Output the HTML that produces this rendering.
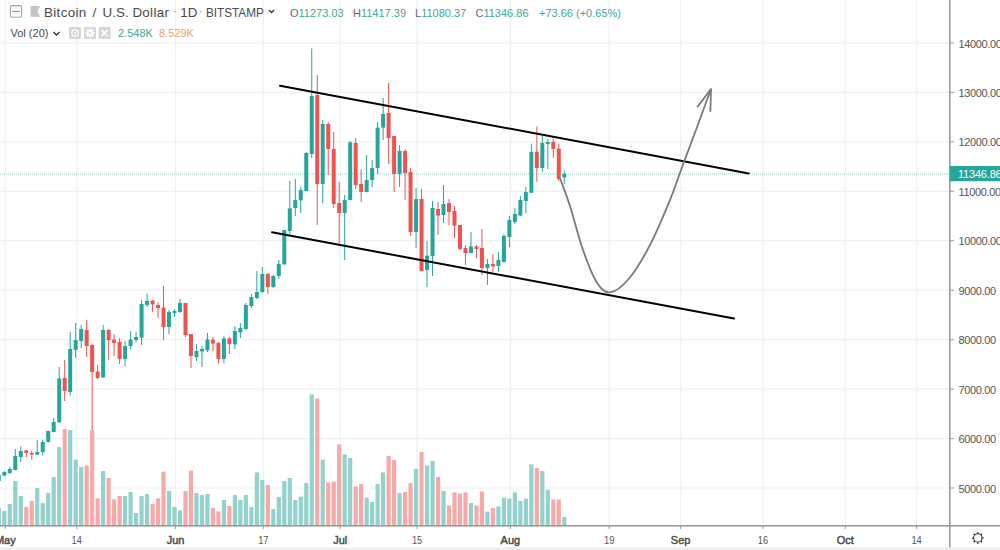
<!DOCTYPE html><html><head><meta charset="utf-8"><style>
html,body{margin:0;padding:0;background:#fff;}
body{width:1000px;height:550px;overflow:hidden;position:relative;font-family:"Liberation Sans",sans-serif;}
svg{position:absolute;left:0;top:0;}
.lg{position:absolute;white-space:nowrap;}
</style></head><body>
<svg width="1000" height="550" viewBox="0 0 1000 550">
<line x1="0" y1="488.0" x2="950" y2="488.0" stroke="#eef0f3" stroke-width="1.2"/>
<line x1="0" y1="438.6" x2="950" y2="438.6" stroke="#eef0f3" stroke-width="1.2"/>
<line x1="0" y1="389.1" x2="950" y2="389.1" stroke="#eef0f3" stroke-width="1.2"/>
<line x1="0" y1="339.7" x2="950" y2="339.7" stroke="#eef0f3" stroke-width="1.2"/>
<line x1="0" y1="290.2" x2="950" y2="290.2" stroke="#eef0f3" stroke-width="1.2"/>
<line x1="0" y1="240.7" x2="950" y2="240.7" stroke="#eef0f3" stroke-width="1.2"/>
<line x1="0" y1="191.3" x2="950" y2="191.3" stroke="#eef0f3" stroke-width="1.2"/>
<line x1="0" y1="141.8" x2="950" y2="141.8" stroke="#eef0f3" stroke-width="1.2"/>
<line x1="0" y1="92.4" x2="950" y2="92.4" stroke="#eef0f3" stroke-width="1.2"/>
<line x1="0" y1="42.9" x2="950" y2="42.9" stroke="#eef0f3" stroke-width="1.2"/>
<line x1="5.3" y1="0" x2="5.3" y2="526" stroke="#eef0f3" stroke-width="1.2"/>
<line x1="76.7" y1="0" x2="76.7" y2="526" stroke="#eef0f3" stroke-width="1.2"/>
<line x1="175.5" y1="0" x2="175.5" y2="526" stroke="#eef0f3" stroke-width="1.2"/>
<line x1="263.3" y1="0" x2="263.3" y2="526" stroke="#eef0f3" stroke-width="1.2"/>
<line x1="340.2" y1="0" x2="340.2" y2="526" stroke="#eef0f3" stroke-width="1.2"/>
<line x1="417.1" y1="0" x2="417.1" y2="526" stroke="#eef0f3" stroke-width="1.2"/>
<line x1="510.4" y1="0" x2="510.4" y2="526" stroke="#eef0f3" stroke-width="1.2"/>
<line x1="609.2" y1="0" x2="609.2" y2="526" stroke="#eef0f3" stroke-width="1.2"/>
<line x1="680.6" y1="0" x2="680.6" y2="526" stroke="#eef0f3" stroke-width="1.2"/>
<line x1="762.9" y1="0" x2="762.9" y2="526" stroke="#eef0f3" stroke-width="1.2"/>
<line x1="845.3" y1="0" x2="845.3" y2="526" stroke="#eef0f3" stroke-width="1.2"/>
<line x1="916.6" y1="0" x2="916.6" y2="526" stroke="#eef0f3" stroke-width="1.2"/>
<rect x="-3.28" y="508.0" width="4.2" height="18.0" fill="#93d2cc"/>
<rect x="2.21" y="511.0" width="4.2" height="15.0" fill="#93d2cc"/>
<rect x="7.70" y="504.0" width="4.2" height="22.0" fill="#93d2cc"/>
<rect x="13.19" y="481.0" width="4.2" height="45.0" fill="#93d2cc"/>
<rect x="18.68" y="496.0" width="4.2" height="30.0" fill="#93d2cc"/>
<rect x="24.17" y="507.0" width="4.2" height="19.0" fill="#f7a9a7"/>
<rect x="29.66" y="501.0" width="4.2" height="25.0" fill="#f7a9a7"/>
<rect x="35.15" y="488.0" width="4.2" height="38.0" fill="#93d2cc"/>
<rect x="40.64" y="503.0" width="4.2" height="23.0" fill="#93d2cc"/>
<rect x="46.13" y="493.0" width="4.2" height="33.0" fill="#93d2cc"/>
<rect x="51.62" y="477.0" width="4.2" height="49.0" fill="#93d2cc"/>
<rect x="57.11" y="447.0" width="4.2" height="79.0" fill="#93d2cc"/>
<rect x="62.60" y="429.0" width="4.2" height="97.0" fill="#f7a9a7"/>
<rect x="68.09" y="430.0" width="4.2" height="96.0" fill="#93d2cc"/>
<rect x="73.58" y="459.6" width="4.2" height="66.4" fill="#93d2cc"/>
<rect x="79.07" y="467.0" width="4.2" height="59.0" fill="#93d2cc"/>
<rect x="84.56" y="465.6" width="4.2" height="60.4" fill="#f7a9a7"/>
<rect x="90.05" y="430.0" width="4.2" height="96.0" fill="#f7a9a7"/>
<rect x="95.54" y="498.4" width="4.2" height="27.6" fill="#f7a9a7"/>
<rect x="101.03" y="471.0" width="4.2" height="55.0" fill="#93d2cc"/>
<rect x="106.52" y="478.0" width="4.2" height="48.0" fill="#f7a9a7"/>
<rect x="112.01" y="499.4" width="4.2" height="26.6" fill="#f7a9a7"/>
<rect x="117.50" y="496.0" width="4.2" height="30.0" fill="#f7a9a7"/>
<rect x="122.99" y="496.0" width="4.2" height="30.0" fill="#93d2cc"/>
<rect x="128.48" y="492.0" width="4.2" height="34.0" fill="#93d2cc"/>
<rect x="133.97" y="513.0" width="4.2" height="13.0" fill="#93d2cc"/>
<rect x="139.46" y="496.0" width="4.2" height="30.0" fill="#93d2cc"/>
<rect x="144.95" y="494.0" width="4.2" height="32.0" fill="#93d2cc"/>
<rect x="150.44" y="504.0" width="4.2" height="22.0" fill="#f7a9a7"/>
<rect x="155.93" y="498.4" width="4.2" height="27.6" fill="#f7a9a7"/>
<rect x="161.42" y="471.6" width="4.2" height="54.4" fill="#f7a9a7"/>
<rect x="166.91" y="491.0" width="4.2" height="35.0" fill="#93d2cc"/>
<rect x="172.40" y="507.0" width="4.2" height="19.0" fill="#93d2cc"/>
<rect x="177.89" y="510.4" width="4.2" height="15.6" fill="#93d2cc"/>
<rect x="183.38" y="491.0" width="4.2" height="35.0" fill="#f7a9a7"/>
<rect x="188.87" y="470.6" width="4.2" height="55.4" fill="#f7a9a7"/>
<rect x="194.36" y="493.0" width="4.2" height="33.0" fill="#93d2cc"/>
<rect x="199.85" y="495.0" width="4.2" height="31.0" fill="#93d2cc"/>
<rect x="205.34" y="494.0" width="4.2" height="32.0" fill="#93d2cc"/>
<rect x="210.83" y="508.0" width="4.2" height="18.0" fill="#f7a9a7"/>
<rect x="216.32" y="511.4" width="4.2" height="14.6" fill="#f7a9a7"/>
<rect x="221.81" y="500.0" width="4.2" height="26.0" fill="#93d2cc"/>
<rect x="227.30" y="506.0" width="4.2" height="20.0" fill="#f7a9a7"/>
<rect x="232.79" y="495.0" width="4.2" height="31.0" fill="#93d2cc"/>
<rect x="238.28" y="500.0" width="4.2" height="26.0" fill="#93d2cc"/>
<rect x="243.77" y="495.0" width="4.2" height="31.0" fill="#93d2cc"/>
<rect x="249.26" y="507.0" width="4.2" height="19.0" fill="#93d2cc"/>
<rect x="254.75" y="472.4" width="4.2" height="53.6" fill="#93d2cc"/>
<rect x="260.24" y="480.0" width="4.2" height="46.0" fill="#93d2cc"/>
<rect x="265.73" y="485.0" width="4.2" height="41.0" fill="#f7a9a7"/>
<rect x="271.22" y="509.0" width="4.2" height="17.0" fill="#93d2cc"/>
<rect x="276.71" y="497.0" width="4.2" height="29.0" fill="#93d2cc"/>
<rect x="282.20" y="481.0" width="4.2" height="45.0" fill="#93d2cc"/>
<rect x="287.69" y="478.0" width="4.2" height="48.0" fill="#93d2cc"/>
<rect x="293.18" y="500.0" width="4.2" height="26.0" fill="#93d2cc"/>
<rect x="298.67" y="496.6" width="4.2" height="29.4" fill="#93d2cc"/>
<rect x="304.16" y="483.0" width="4.2" height="43.0" fill="#93d2cc"/>
<rect x="309.65" y="394.4" width="4.2" height="131.6" fill="#93d2cc"/>
<rect x="315.14" y="398.4" width="4.2" height="127.6" fill="#f7a9a7"/>
<rect x="320.63" y="459.6" width="4.2" height="66.4" fill="#93d2cc"/>
<rect x="326.12" y="482.4" width="4.2" height="43.6" fill="#f7a9a7"/>
<rect x="331.61" y="481.6" width="4.2" height="44.4" fill="#f7a9a7"/>
<rect x="337.10" y="444.4" width="4.2" height="81.6" fill="#f7a9a7"/>
<rect x="342.59" y="454.4" width="4.2" height="71.6" fill="#93d2cc"/>
<rect x="348.08" y="458.0" width="4.2" height="68.0" fill="#93d2cc"/>
<rect x="353.57" y="486.4" width="4.2" height="39.6" fill="#f7a9a7"/>
<rect x="359.06" y="484.0" width="4.2" height="42.0" fill="#f7a9a7"/>
<rect x="364.55" y="497.6" width="4.2" height="28.4" fill="#93d2cc"/>
<rect x="370.04" y="502.0" width="4.2" height="24.0" fill="#93d2cc"/>
<rect x="375.53" y="484.0" width="4.2" height="42.0" fill="#93d2cc"/>
<rect x="381.02" y="472.4" width="4.2" height="53.6" fill="#93d2cc"/>
<rect x="386.51" y="456.0" width="4.2" height="70.0" fill="#f7a9a7"/>
<rect x="392.00" y="460.0" width="4.2" height="66.0" fill="#f7a9a7"/>
<rect x="397.49" y="493.0" width="4.2" height="33.0" fill="#93d2cc"/>
<rect x="402.98" y="492.0" width="4.2" height="34.0" fill="#f7a9a7"/>
<rect x="408.47" y="483.0" width="4.2" height="43.0" fill="#f7a9a7"/>
<rect x="413.96" y="469.0" width="4.2" height="57.0" fill="#93d2cc"/>
<rect x="419.45" y="452.0" width="4.2" height="74.0" fill="#f7a9a7"/>
<rect x="424.94" y="465.6" width="4.2" height="60.4" fill="#93d2cc"/>
<rect x="430.43" y="461.0" width="4.2" height="65.0" fill="#93d2cc"/>
<rect x="435.92" y="477.0" width="4.2" height="49.0" fill="#f7a9a7"/>
<rect x="441.41" y="491.0" width="4.2" height="35.0" fill="#93d2cc"/>
<rect x="446.90" y="505.6" width="4.2" height="20.4" fill="#f7a9a7"/>
<rect x="452.39" y="492.4" width="4.2" height="33.6" fill="#f7a9a7"/>
<rect x="457.88" y="493.6" width="4.2" height="32.4" fill="#f7a9a7"/>
<rect x="463.37" y="492.4" width="4.2" height="33.6" fill="#f7a9a7"/>
<rect x="468.86" y="503.0" width="4.2" height="23.0" fill="#93d2cc"/>
<rect x="474.35" y="505.6" width="4.2" height="20.4" fill="#f7a9a7"/>
<rect x="479.84" y="491.6" width="4.2" height="34.4" fill="#f7a9a7"/>
<rect x="485.33" y="511.6" width="4.2" height="14.4" fill="#93d2cc"/>
<rect x="490.82" y="508.0" width="4.2" height="18.0" fill="#f7a9a7"/>
<rect x="496.31" y="506.4" width="4.2" height="19.6" fill="#93d2cc"/>
<rect x="501.80" y="497.6" width="4.2" height="28.4" fill="#93d2cc"/>
<rect x="507.29" y="498.6" width="4.2" height="27.4" fill="#93d2cc"/>
<rect x="512.78" y="492.4" width="4.2" height="33.6" fill="#93d2cc"/>
<rect x="518.27" y="501.0" width="4.2" height="25.0" fill="#93d2cc"/>
<rect x="523.76" y="498.6" width="4.2" height="27.4" fill="#93d2cc"/>
<rect x="529.25" y="464.4" width="4.2" height="61.6" fill="#93d2cc"/>
<rect x="534.74" y="468.0" width="4.2" height="58.0" fill="#f7a9a7"/>
<rect x="540.23" y="471.0" width="4.2" height="55.0" fill="#93d2cc"/>
<rect x="545.72" y="489.6" width="4.2" height="36.4" fill="#93d2cc"/>
<rect x="551.21" y="499.4" width="4.2" height="26.6" fill="#f7a9a7"/>
<rect x="556.70" y="499.4" width="4.2" height="26.6" fill="#f7a9a7"/>
<rect x="562.19" y="517.0" width="4.2" height="9.0" fill="#93d2cc"/>
<line x1="0" y1="174" x2="950" y2="174" stroke="#26a69a" stroke-width="1" stroke-dasharray="1 1" opacity="0.55"/>
<rect x="-1.68" y="474.0" width="1" height="8.0" fill="#26a69a"/>
<rect x="-3.18" y="475.0" width="4.0" height="6.0" fill="#26a69a"/>
<rect x="3.81" y="471.0" width="1" height="5.4" fill="#26a69a"/>
<rect x="2.31" y="472.0" width="4.0" height="3.6" fill="#26a69a"/>
<rect x="9.30" y="467.0" width="1" height="7.0" fill="#26a69a"/>
<rect x="7.80" y="469.0" width="4.0" height="4.0" fill="#26a69a"/>
<rect x="14.79" y="449.0" width="1" height="21.5" fill="#26a69a"/>
<rect x="13.29" y="456.0" width="4.0" height="14.0" fill="#26a69a"/>
<rect x="20.28" y="446.4" width="1" height="15.6" fill="#26a69a"/>
<rect x="18.78" y="451.0" width="4.0" height="6.0" fill="#26a69a"/>
<rect x="25.77" y="450.0" width="1" height="7.0" fill="#ef5350"/>
<rect x="24.27" y="450.5" width="4.0" height="2.5" fill="#ef5350"/>
<rect x="31.26" y="450.5" width="1" height="9.1" fill="#ef5350"/>
<rect x="29.76" y="453.0" width="4.0" height="1.6" fill="#ef5350"/>
<rect x="36.75" y="440.0" width="1" height="15.0" fill="#26a69a"/>
<rect x="35.25" y="452.0" width="4.0" height="2.6" fill="#26a69a"/>
<rect x="42.24" y="439.6" width="1" height="15.9" fill="#26a69a"/>
<rect x="40.74" y="442.0" width="4.0" height="10.0" fill="#26a69a"/>
<rect x="47.73" y="431.0" width="1" height="11.5" fill="#26a69a"/>
<rect x="46.23" y="431.0" width="4.0" height="11.0" fill="#26a69a"/>
<rect x="53.22" y="418.0" width="1" height="14.4" fill="#26a69a"/>
<rect x="51.72" y="422.0" width="4.0" height="10.0" fill="#26a69a"/>
<rect x="58.71" y="367.0" width="1" height="55.6" fill="#26a69a"/>
<rect x="57.21" y="378.5" width="4.0" height="43.9" fill="#26a69a"/>
<rect x="64.20" y="360.0" width="1" height="41.0" fill="#ef5350"/>
<rect x="62.70" y="378.0" width="4.0" height="13.0" fill="#ef5350"/>
<rect x="69.69" y="332.0" width="1" height="63.6" fill="#26a69a"/>
<rect x="68.19" y="349.0" width="4.0" height="43.0" fill="#26a69a"/>
<rect x="75.18" y="323.0" width="1" height="35.0" fill="#26a69a"/>
<rect x="73.68" y="340.0" width="4.0" height="10.0" fill="#26a69a"/>
<rect x="80.67" y="325.0" width="1" height="23.0" fill="#26a69a"/>
<rect x="79.17" y="329.0" width="4.0" height="12.0" fill="#26a69a"/>
<rect x="86.16" y="320.0" width="1" height="37.0" fill="#ef5350"/>
<rect x="84.66" y="330.0" width="4.0" height="16.0" fill="#ef5350"/>
<rect x="91.65" y="343.6" width="1" height="86.4" fill="#ef5350"/>
<rect x="90.15" y="345.0" width="4.0" height="27.0" fill="#ef5350"/>
<rect x="97.14" y="365.0" width="1" height="14.0" fill="#ef5350"/>
<rect x="95.64" y="371.6" width="4.0" height="6.4" fill="#ef5350"/>
<rect x="102.63" y="325.0" width="1" height="53.0" fill="#26a69a"/>
<rect x="101.13" y="330.0" width="4.0" height="47.4" fill="#26a69a"/>
<rect x="108.12" y="329.0" width="1" height="31.0" fill="#ef5350"/>
<rect x="106.62" y="330.0" width="4.0" height="10.0" fill="#ef5350"/>
<rect x="113.61" y="334.0" width="1" height="22.0" fill="#ef5350"/>
<rect x="112.11" y="339.6" width="4.0" height="3.4" fill="#ef5350"/>
<rect x="119.10" y="338.0" width="1" height="26.0" fill="#ef5350"/>
<rect x="117.60" y="342.0" width="4.0" height="17.0" fill="#ef5350"/>
<rect x="124.59" y="341.0" width="1" height="25.0" fill="#26a69a"/>
<rect x="123.09" y="346.0" width="4.0" height="13.0" fill="#26a69a"/>
<rect x="130.08" y="331.0" width="1" height="18.0" fill="#26a69a"/>
<rect x="128.58" y="339.6" width="4.0" height="6.4" fill="#26a69a"/>
<rect x="135.57" y="332.0" width="1" height="10.0" fill="#26a69a"/>
<rect x="134.07" y="337.0" width="4.0" height="3.0" fill="#26a69a"/>
<rect x="141.06" y="300.0" width="1" height="45.0" fill="#26a69a"/>
<rect x="139.56" y="304.0" width="4.0" height="33.6" fill="#26a69a"/>
<rect x="146.55" y="293.6" width="1" height="13.4" fill="#26a69a"/>
<rect x="145.05" y="301.0" width="4.0" height="4.0" fill="#26a69a"/>
<rect x="152.04" y="300.0" width="1" height="12.0" fill="#ef5350"/>
<rect x="150.54" y="300.6" width="4.0" height="3.8" fill="#ef5350"/>
<rect x="157.53" y="302.4" width="1" height="15.6" fill="#ef5350"/>
<rect x="156.03" y="305.0" width="4.0" height="3.0" fill="#ef5350"/>
<rect x="163.02" y="286.0" width="1" height="54.0" fill="#ef5350"/>
<rect x="161.52" y="307.6" width="4.0" height="19.4" fill="#ef5350"/>
<rect x="168.51" y="310.0" width="1" height="24.0" fill="#26a69a"/>
<rect x="167.01" y="312.0" width="4.0" height="15.0" fill="#26a69a"/>
<rect x="174.00" y="309.0" width="1" height="8.0" fill="#26a69a"/>
<rect x="172.50" y="311.0" width="4.0" height="2.0" fill="#26a69a"/>
<rect x="179.49" y="299.0" width="1" height="14.0" fill="#26a69a"/>
<rect x="177.99" y="303.0" width="4.0" height="9.0" fill="#26a69a"/>
<rect x="184.98" y="303.0" width="1" height="34.0" fill="#ef5350"/>
<rect x="183.48" y="303.0" width="4.0" height="32.0" fill="#ef5350"/>
<rect x="190.47" y="334.0" width="1" height="34.0" fill="#ef5350"/>
<rect x="188.97" y="334.0" width="4.0" height="22.0" fill="#ef5350"/>
<rect x="195.96" y="344.0" width="1" height="17.0" fill="#26a69a"/>
<rect x="194.46" y="351.0" width="4.0" height="6.0" fill="#26a69a"/>
<rect x="201.45" y="346.0" width="1" height="21.0" fill="#26a69a"/>
<rect x="199.95" y="349.0" width="4.0" height="2.4" fill="#26a69a"/>
<rect x="206.94" y="333.0" width="1" height="19.0" fill="#26a69a"/>
<rect x="205.44" y="339.6" width="4.0" height="10.8" fill="#26a69a"/>
<rect x="212.43" y="337.0" width="1" height="14.0" fill="#ef5350"/>
<rect x="210.93" y="339.6" width="4.0" height="4.0" fill="#ef5350"/>
<rect x="217.92" y="342.0" width="1" height="21.6" fill="#ef5350"/>
<rect x="216.42" y="343.0" width="4.0" height="16.0" fill="#ef5350"/>
<rect x="223.41" y="336.0" width="1" height="27.6" fill="#26a69a"/>
<rect x="221.91" y="338.4" width="4.0" height="20.6" fill="#26a69a"/>
<rect x="228.90" y="337.0" width="1" height="17.0" fill="#ef5350"/>
<rect x="227.40" y="338.4" width="4.0" height="5.6" fill="#ef5350"/>
<rect x="234.39" y="326.0" width="1" height="23.0" fill="#26a69a"/>
<rect x="232.89" y="331.0" width="4.0" height="13.4" fill="#26a69a"/>
<rect x="239.88" y="323.0" width="1" height="15.0" fill="#26a69a"/>
<rect x="238.38" y="328.0" width="4.0" height="4.4" fill="#26a69a"/>
<rect x="245.37" y="303.0" width="1" height="27.0" fill="#26a69a"/>
<rect x="243.87" y="305.0" width="4.0" height="24.0" fill="#26a69a"/>
<rect x="250.86" y="294.0" width="1" height="14.0" fill="#26a69a"/>
<rect x="249.36" y="297.0" width="4.0" height="9.0" fill="#26a69a"/>
<rect x="256.35" y="271.0" width="1" height="28.0" fill="#26a69a"/>
<rect x="254.85" y="292.0" width="4.0" height="6.0" fill="#26a69a"/>
<rect x="261.84" y="267.0" width="1" height="26.0" fill="#26a69a"/>
<rect x="260.34" y="274.0" width="4.0" height="18.0" fill="#26a69a"/>
<rect x="267.33" y="273.0" width="1" height="21.0" fill="#ef5350"/>
<rect x="265.83" y="274.0" width="4.0" height="13.0" fill="#ef5350"/>
<rect x="272.82" y="275.0" width="1" height="13.0" fill="#26a69a"/>
<rect x="271.32" y="276.0" width="4.0" height="11.0" fill="#26a69a"/>
<rect x="278.31" y="260.0" width="1" height="19.0" fill="#26a69a"/>
<rect x="276.81" y="264.0" width="4.0" height="12.0" fill="#26a69a"/>
<rect x="283.80" y="230.0" width="1" height="34.6" fill="#26a69a"/>
<rect x="282.30" y="230.0" width="4.0" height="34.4" fill="#26a69a"/>
<rect x="289.29" y="181.0" width="1" height="53.0" fill="#26a69a"/>
<rect x="287.79" y="208.4" width="4.0" height="22.6" fill="#26a69a"/>
<rect x="294.78" y="179.0" width="1" height="37.0" fill="#26a69a"/>
<rect x="293.28" y="200.0" width="4.0" height="8.0" fill="#26a69a"/>
<rect x="300.27" y="187.0" width="1" height="26.0" fill="#26a69a"/>
<rect x="298.77" y="190.0" width="4.0" height="10.4" fill="#26a69a"/>
<rect x="305.76" y="152.0" width="1" height="39.5" fill="#26a69a"/>
<rect x="304.26" y="153.0" width="4.0" height="38.0" fill="#26a69a"/>
<rect x="311.25" y="48.4" width="1" height="109.6" fill="#26a69a"/>
<rect x="309.75" y="96.0" width="4.0" height="58.0" fill="#26a69a"/>
<rect x="316.74" y="75.0" width="1" height="150.0" fill="#ef5350"/>
<rect x="315.24" y="95.0" width="4.0" height="89.0" fill="#ef5350"/>
<rect x="322.23" y="120.0" width="1" height="83.0" fill="#26a69a"/>
<rect x="320.73" y="124.0" width="4.0" height="60.0" fill="#26a69a"/>
<rect x="327.72" y="122.0" width="1" height="53.0" fill="#ef5350"/>
<rect x="326.22" y="124.0" width="4.0" height="25.0" fill="#ef5350"/>
<rect x="333.21" y="132.0" width="1" height="76.0" fill="#ef5350"/>
<rect x="331.71" y="149.0" width="4.0" height="55.0" fill="#ef5350"/>
<rect x="338.70" y="182.0" width="1" height="61.0" fill="#ef5350"/>
<rect x="337.20" y="203.0" width="4.0" height="10.0" fill="#ef5350"/>
<rect x="344.19" y="195.0" width="1" height="65.0" fill="#26a69a"/>
<rect x="342.69" y="200.0" width="4.0" height="13.0" fill="#26a69a"/>
<rect x="349.68" y="141.0" width="1" height="59.5" fill="#26a69a"/>
<rect x="348.18" y="142.4" width="4.0" height="57.6" fill="#26a69a"/>
<rect x="355.17" y="138.0" width="1" height="51.0" fill="#ef5350"/>
<rect x="353.67" y="143.0" width="4.0" height="42.0" fill="#ef5350"/>
<rect x="360.66" y="169.0" width="1" height="33.0" fill="#ef5350"/>
<rect x="359.16" y="184.0" width="4.0" height="8.0" fill="#ef5350"/>
<rect x="366.15" y="155.0" width="1" height="37.5" fill="#26a69a"/>
<rect x="364.65" y="180.0" width="4.0" height="12.0" fill="#26a69a"/>
<rect x="371.64" y="160.0" width="1" height="27.0" fill="#26a69a"/>
<rect x="370.14" y="168.0" width="4.0" height="12.0" fill="#26a69a"/>
<rect x="377.13" y="122.0" width="1" height="52.0" fill="#26a69a"/>
<rect x="375.63" y="127.6" width="4.0" height="40.4" fill="#26a69a"/>
<rect x="382.62" y="98.0" width="1" height="42.0" fill="#26a69a"/>
<rect x="381.12" y="114.0" width="4.0" height="13.6" fill="#26a69a"/>
<rect x="388.11" y="83.0" width="1" height="81.0" fill="#ef5350"/>
<rect x="386.61" y="113.0" width="4.0" height="25.0" fill="#ef5350"/>
<rect x="393.60" y="136.0" width="1" height="56.0" fill="#ef5350"/>
<rect x="392.10" y="136.0" width="4.0" height="38.0" fill="#ef5350"/>
<rect x="399.09" y="145.0" width="1" height="42.0" fill="#26a69a"/>
<rect x="397.59" y="151.0" width="4.0" height="23.0" fill="#26a69a"/>
<rect x="404.58" y="149.0" width="1" height="51.0" fill="#ef5350"/>
<rect x="403.08" y="151.0" width="4.0" height="22.0" fill="#ef5350"/>
<rect x="410.07" y="168.0" width="1" height="68.0" fill="#ef5350"/>
<rect x="408.57" y="172.0" width="4.0" height="60.0" fill="#ef5350"/>
<rect x="415.56" y="188.0" width="1" height="60.0" fill="#26a69a"/>
<rect x="414.06" y="199.0" width="4.0" height="33.0" fill="#26a69a"/>
<rect x="421.05" y="189.0" width="1" height="82.5" fill="#ef5350"/>
<rect x="419.55" y="199.0" width="4.0" height="72.0" fill="#ef5350"/>
<rect x="426.54" y="241.0" width="1" height="46.0" fill="#26a69a"/>
<rect x="425.04" y="255.6" width="4.0" height="14.4" fill="#26a69a"/>
<rect x="432.03" y="201.0" width="1" height="75.0" fill="#26a69a"/>
<rect x="430.53" y="208.0" width="4.0" height="48.0" fill="#26a69a"/>
<rect x="437.52" y="202.0" width="1" height="33.0" fill="#ef5350"/>
<rect x="436.02" y="209.0" width="4.0" height="6.6" fill="#ef5350"/>
<rect x="443.01" y="185.0" width="1" height="38.0" fill="#26a69a"/>
<rect x="441.51" y="204.0" width="4.0" height="11.0" fill="#26a69a"/>
<rect x="448.50" y="199.0" width="1" height="26.0" fill="#ef5350"/>
<rect x="447.00" y="203.0" width="4.0" height="9.0" fill="#ef5350"/>
<rect x="453.99" y="206.0" width="1" height="32.0" fill="#ef5350"/>
<rect x="452.49" y="211.0" width="4.0" height="14.6" fill="#ef5350"/>
<rect x="459.48" y="225.0" width="1" height="25.0" fill="#ef5350"/>
<rect x="457.98" y="225.0" width="4.0" height="24.0" fill="#ef5350"/>
<rect x="464.97" y="245.0" width="1" height="20.0" fill="#ef5350"/>
<rect x="463.47" y="248.0" width="4.0" height="5.0" fill="#ef5350"/>
<rect x="470.46" y="232.0" width="1" height="21.5" fill="#26a69a"/>
<rect x="468.96" y="246.4" width="4.0" height="6.6" fill="#26a69a"/>
<rect x="475.95" y="245.0" width="1" height="13.0" fill="#ef5350"/>
<rect x="474.45" y="246.4" width="4.0" height="2.6" fill="#ef5350"/>
<rect x="481.44" y="229.0" width="1" height="46.0" fill="#ef5350"/>
<rect x="479.94" y="248.0" width="4.0" height="20.0" fill="#ef5350"/>
<rect x="486.93" y="259.0" width="1" height="26.0" fill="#26a69a"/>
<rect x="485.43" y="264.0" width="4.0" height="4.0" fill="#26a69a"/>
<rect x="492.42" y="254.0" width="1" height="18.0" fill="#ef5350"/>
<rect x="490.92" y="264.0" width="4.0" height="2.4" fill="#ef5350"/>
<rect x="497.91" y="252.0" width="1" height="20.0" fill="#26a69a"/>
<rect x="496.41" y="260.0" width="4.0" height="6.0" fill="#26a69a"/>
<rect x="503.40" y="234.0" width="1" height="28.5" fill="#26a69a"/>
<rect x="501.90" y="236.0" width="4.0" height="26.0" fill="#26a69a"/>
<rect x="508.89" y="216.0" width="1" height="31.0" fill="#26a69a"/>
<rect x="507.39" y="220.0" width="4.0" height="17.0" fill="#26a69a"/>
<rect x="514.38" y="208.0" width="1" height="16.0" fill="#26a69a"/>
<rect x="512.88" y="214.0" width="4.0" height="8.0" fill="#26a69a"/>
<rect x="519.87" y="196.0" width="1" height="20.0" fill="#26a69a"/>
<rect x="518.37" y="200.0" width="4.0" height="15.6" fill="#26a69a"/>
<rect x="525.36" y="187.0" width="1" height="26.0" fill="#26a69a"/>
<rect x="523.86" y="192.0" width="4.0" height="9.0" fill="#26a69a"/>
<rect x="530.85" y="143.6" width="1" height="49.4" fill="#26a69a"/>
<rect x="529.35" y="151.8" width="4.0" height="40.9" fill="#26a69a"/>
<rect x="536.34" y="126.4" width="1" height="55.4" fill="#ef5350"/>
<rect x="534.84" y="151.8" width="4.0" height="16.2" fill="#ef5350"/>
<rect x="541.83" y="136.0" width="1" height="36.0" fill="#26a69a"/>
<rect x="540.33" y="143.0" width="4.0" height="25.0" fill="#26a69a"/>
<rect x="547.32" y="139.0" width="1" height="30.0" fill="#26a69a"/>
<rect x="545.82" y="142.0" width="4.0" height="2.0" fill="#26a69a"/>
<rect x="552.81" y="139.0" width="1" height="19.0" fill="#ef5350"/>
<rect x="551.31" y="142.0" width="4.0" height="7.0" fill="#ef5350"/>
<rect x="558.30" y="143.6" width="1" height="37.4" fill="#ef5350"/>
<rect x="556.80" y="148.7" width="4.0" height="30.3" fill="#ef5350"/>
<rect x="563.79" y="170.4" width="1" height="13.6" fill="#26a69a"/>
<rect x="562.29" y="173.8" width="4.0" height="3.7" fill="#26a69a"/>
<line x1="280" y1="85.7" x2="748.8" y2="173.4" stroke="#000" stroke-width="2" stroke-linecap="round"/>
<line x1="272" y1="232.2" x2="734" y2="318.6" stroke="#000" stroke-width="2" stroke-linecap="round"/>
<path d="M560,178 C562.3,184.7 566.3,194.5 570,206 C573.7,217.5 577.7,234.5 582,247 C586.3,259.5 591.3,273.4 596,281 C600.7,288.6 604.4,292.9 610,292.4 C615.6,291.9 622.8,285.9 629.5,278 C636.2,270.1 643.2,258.0 650,245 C656.8,232.0 664.8,212.5 670,200 C675.2,187.5 676.7,181.7 681,170 C685.3,158.3 691.0,143.5 696,130 C701.0,116.5 707.0,99.8 711,89" fill="none" stroke="#7a7a7a" stroke-width="1.8"/>
<path d="M697.6,106.6 L711,89 L710.4,111" fill="none" stroke="#7a7a7a" stroke-width="1.8" stroke-linecap="round" stroke-linejoin="round"/>
<rect x="949" y="0" width="1.6" height="548" fill="#9a9a9a"/>
<rect x="0" y="525" width="1000" height="1.6" fill="#9a9a9a"/>
<line x1="950" y1="488.0" x2="954" y2="488.0" stroke="#9a9a9a" stroke-width="1"/>
<text x="958.5" y="492.6" font-family="Liberation Sans" font-size="11" letter-spacing="-0.35" fill="#555">5000.00</text>
<line x1="950" y1="438.6" x2="954" y2="438.6" stroke="#9a9a9a" stroke-width="1"/>
<text x="958.5" y="443.2" font-family="Liberation Sans" font-size="11" letter-spacing="-0.35" fill="#555">6000.00</text>
<line x1="950" y1="389.1" x2="954" y2="389.1" stroke="#9a9a9a" stroke-width="1"/>
<text x="958.5" y="393.7" font-family="Liberation Sans" font-size="11" letter-spacing="-0.35" fill="#555">7000.00</text>
<line x1="950" y1="339.7" x2="954" y2="339.7" stroke="#9a9a9a" stroke-width="1"/>
<text x="958.5" y="344.3" font-family="Liberation Sans" font-size="11" letter-spacing="-0.35" fill="#555">8000.00</text>
<line x1="950" y1="290.2" x2="954" y2="290.2" stroke="#9a9a9a" stroke-width="1"/>
<text x="958.5" y="294.8" font-family="Liberation Sans" font-size="11" letter-spacing="-0.35" fill="#555">9000.00</text>
<line x1="950" y1="240.7" x2="954" y2="240.7" stroke="#9a9a9a" stroke-width="1"/>
<text x="958.5" y="245.3" font-family="Liberation Sans" font-size="11" letter-spacing="-0.35" fill="#555">10000.00</text>
<line x1="950" y1="191.3" x2="954" y2="191.3" stroke="#9a9a9a" stroke-width="1"/>
<text x="958.5" y="195.9" font-family="Liberation Sans" font-size="11" letter-spacing="-0.35" fill="#555">11000.00</text>
<line x1="950" y1="141.8" x2="954" y2="141.8" stroke="#9a9a9a" stroke-width="1"/>
<text x="958.5" y="146.4" font-family="Liberation Sans" font-size="11" letter-spacing="-0.35" fill="#555">12000.00</text>
<line x1="950" y1="92.4" x2="954" y2="92.4" stroke="#9a9a9a" stroke-width="1"/>
<text x="958.5" y="97.0" font-family="Liberation Sans" font-size="11" letter-spacing="-0.35" fill="#555">13000.00</text>
<line x1="950" y1="42.9" x2="954" y2="42.9" stroke="#9a9a9a" stroke-width="1"/>
<text x="958.5" y="47.5" font-family="Liberation Sans" font-size="11" letter-spacing="-0.35" fill="#555">14000.00</text>
<line x1="5.3" y1="526" x2="5.3" y2="529" stroke="#9a9a9a" stroke-width="1"/>
<text x="5.3" y="543.5" text-anchor="middle" font-family="Liberation Sans" font-size="11" fill="#4a4a4a" stroke="#4a4a4a" stroke-width="0.45">May</text>
<line x1="76.7" y1="526" x2="76.7" y2="529" stroke="#9a9a9a" stroke-width="1"/>
<text transform="translate(76.7,543.5) scale(0.84,1)" x="0" y="0" text-anchor="middle" font-family="Liberation Sans" font-size="11" fill="#555">14</text>
<line x1="175.5" y1="526" x2="175.5" y2="529" stroke="#9a9a9a" stroke-width="1"/>
<text x="175.5" y="543.5" text-anchor="middle" font-family="Liberation Sans" font-size="11" fill="#4a4a4a" stroke="#4a4a4a" stroke-width="0.45">Jun</text>
<line x1="263.3" y1="526" x2="263.3" y2="529" stroke="#9a9a9a" stroke-width="1"/>
<text transform="translate(263.3,543.5) scale(0.84,1)" x="0" y="0" text-anchor="middle" font-family="Liberation Sans" font-size="11" fill="#555">17</text>
<line x1="340.2" y1="526" x2="340.2" y2="529" stroke="#9a9a9a" stroke-width="1"/>
<text x="340.2" y="543.5" text-anchor="middle" font-family="Liberation Sans" font-size="11" fill="#4a4a4a" stroke="#4a4a4a" stroke-width="0.45">Jul</text>
<line x1="417.1" y1="526" x2="417.1" y2="529" stroke="#9a9a9a" stroke-width="1"/>
<text transform="translate(417.1,543.5) scale(0.84,1)" x="0" y="0" text-anchor="middle" font-family="Liberation Sans" font-size="11" fill="#555">15</text>
<line x1="510.4" y1="526" x2="510.4" y2="529" stroke="#9a9a9a" stroke-width="1"/>
<text x="510.4" y="543.5" text-anchor="middle" font-family="Liberation Sans" font-size="11" fill="#4a4a4a" stroke="#4a4a4a" stroke-width="0.45">Aug</text>
<line x1="609.2" y1="526" x2="609.2" y2="529" stroke="#9a9a9a" stroke-width="1"/>
<text transform="translate(609.2,543.5) scale(0.84,1)" x="0" y="0" text-anchor="middle" font-family="Liberation Sans" font-size="11" fill="#555">19</text>
<line x1="680.6" y1="526" x2="680.6" y2="529" stroke="#9a9a9a" stroke-width="1"/>
<text x="680.6" y="543.5" text-anchor="middle" font-family="Liberation Sans" font-size="11" fill="#4a4a4a" stroke="#4a4a4a" stroke-width="0.45">Sep</text>
<line x1="762.9" y1="526" x2="762.9" y2="529" stroke="#9a9a9a" stroke-width="1"/>
<text transform="translate(762.9,543.5) scale(0.84,1)" x="0" y="0" text-anchor="middle" font-family="Liberation Sans" font-size="11" fill="#555">16</text>
<line x1="845.3" y1="526" x2="845.3" y2="529" stroke="#9a9a9a" stroke-width="1"/>
<text x="845.3" y="543.5" text-anchor="middle" font-family="Liberation Sans" font-size="11" fill="#4a4a4a" stroke="#4a4a4a" stroke-width="0.45">Oct</text>
<line x1="916.6" y1="526" x2="916.6" y2="529" stroke="#9a9a9a" stroke-width="1"/>
<text transform="translate(916.6,543.5) scale(0.84,1)" x="0" y="0" text-anchor="middle" font-family="Liberation Sans" font-size="11" fill="#555">14</text>
<rect x="950" y="166" width="50" height="15.2" fill="#26a69a"/>
<text x="958" y="177.6" font-family="Liberation Sans" font-size="11" letter-spacing="-0.2" fill="#fff">11346.86</text>
<rect x="0" y="547.3" width="1000" height="3" fill="#efefef"/>
<g transform="translate(977.8,538)" fill="none" stroke="#333" stroke-width="1.1">
<circle cx="0" cy="0" r="4.2"/>
<line x1="4.20" y1="0.00" x2="6.00" y2="0.00"/>
<line x1="2.97" y1="2.97" x2="4.24" y2="4.24"/>
<line x1="0.00" y1="4.20" x2="0.00" y2="6.00"/>
<line x1="-2.97" y1="2.97" x2="-4.24" y2="4.24"/>
<line x1="-4.20" y1="0.00" x2="-6.00" y2="0.00"/>
<line x1="-2.97" y1="-2.97" x2="-4.24" y2="-4.24"/>
<line x1="-0.00" y1="-4.20" x2="-0.00" y2="-6.00"/>
<line x1="2.97" y1="-2.97" x2="4.24" y2="-4.24"/>
</g>
<rect x="10.5" y="5.6" width="11" height="11.6" rx="1.8" fill="none" stroke="#a0a0a0" stroke-width="1.1"/>
<line x1="12" y1="11.4" x2="20" y2="11.4" stroke="#a0a0a0" stroke-width="1.1"/>
<path d="M30.6,6 L40.2,6 L37.5,11.4 L40.2,16.8 L30.6,16.8 Z" fill="#c4c4c4"/>
<rect x="69" y="27" width="12" height="12" rx="1" fill="#d6d6d6"/>
<rect x="84" y="27" width="12" height="12" rx="1" fill="#d6d6d6"/>
<rect x="98.6" y="27" width="12" height="12" rx="1" fill="#d6d6d6"/>
<circle cx="75" cy="33" r="3.2" fill="none" stroke="#fff" stroke-width="1.2"/>
<circle cx="75" cy="33" r="1" fill="#fff"/>
<circle cx="90" cy="33" r="3.1" fill="#fff"/>
<rect x="-0.9" y="-4.6" width="1.8" height="2" fill="#fff" transform="translate(90,33) rotate(0)"/>
<rect x="-0.9" y="-4.6" width="1.8" height="2" fill="#fff" transform="translate(90,33) rotate(45)"/>
<rect x="-0.9" y="-4.6" width="1.8" height="2" fill="#fff" transform="translate(90,33) rotate(90)"/>
<rect x="-0.9" y="-4.6" width="1.8" height="2" fill="#fff" transform="translate(90,33) rotate(135)"/>
<rect x="-0.9" y="-4.6" width="1.8" height="2" fill="#fff" transform="translate(90,33) rotate(180)"/>
<rect x="-0.9" y="-4.6" width="1.8" height="2" fill="#fff" transform="translate(90,33) rotate(225)"/>
<rect x="-0.9" y="-4.6" width="1.8" height="2" fill="#fff" transform="translate(90,33) rotate(270)"/>
<rect x="-0.9" y="-4.6" width="1.8" height="2" fill="#fff" transform="translate(90,33) rotate(315)"/>
<circle cx="90" cy="33" r="1.3" fill="#d6d6d6"/>
<path d="M101.6,30 L107.6,36 M107.6,30 L101.6,36" stroke="#fff" stroke-width="1.5"/>
<path d="M53.5,32 L56.5,35 L59.5,32" fill="none" stroke="#333" stroke-width="1.3"/>
<path d="M269,10 L271.5,12.5 L274,10" fill="none" stroke="#333" stroke-width="1.3"/>
</svg>
<div class="lg" style="left:44px;top:4.5px;font-size:13.4px;color:#4a4a4a;letter-spacing:0.35px;">Bitcoin</div>
<div class="lg" style="left:92.6px;top:4.5px;font-size:13.4px;color:#4a4a4a;">/</div>
<div class="lg" style="left:102.6px;top:4.5px;font-size:13.4px;color:#4a4a4a;">U.S.</div>
<div class="lg" style="left:132.4px;top:4.5px;font-size:13.4px;color:#4a4a4a;letter-spacing:0.3px;">Dollar</div>
<div class="lg" style="left:172.8px;top:3px;font-size:13.4px;color:#aaa;">·</div>
<div class="lg" style="left:180.2px;top:4.5px;font-size:13.4px;color:#4a4a4a;">1D</div>
<div class="lg" style="left:198.6px;top:3px;font-size:13.4px;color:#aaa;">·</div>
<div class="lg" style="left:206.4px;top:4.5px;font-size:13.4px;color:#4a4a4a;transform:scaleX(0.875);transform-origin:0 0;">BITSTAMP</div>
<div class="lg" style="left:290px;top:6.5px;font-size:11px;color:#6a6a6a;">O<span style="color:#3ea897">11273.03</span></div>
<div class="lg" style="left:353px;top:6.5px;font-size:11px;color:#6a6a6a;">H<span style="color:#3ea897">11417.39</span></div>
<div class="lg" style="left:415px;top:6.5px;font-size:11px;color:#6a6a6a;">L<span style="color:#3ea897">11080.37</span></div>
<div class="lg" style="left:475.5px;top:6.5px;font-size:11px;color:#6a6a6a;">C<span style="color:#3ea897">11346.86</span></div>
<div class="lg" style="left:539px;top:6.5px;font-size:11px;color:#3ea897;">+73.66 (+0.65%)</div>
<div class="lg" style="left:10.5px;top:27px;font-size:11px;color:#4a4a4a;">Vol (20)</div>
<div class="lg" style="left:118px;top:27px;font-size:11px;color:#3ea897;">2.548K</div>
<div class="lg" style="left:159px;top:27px;font-size:11px;color:#f0a060;">8.529K</div>
</body></html>
